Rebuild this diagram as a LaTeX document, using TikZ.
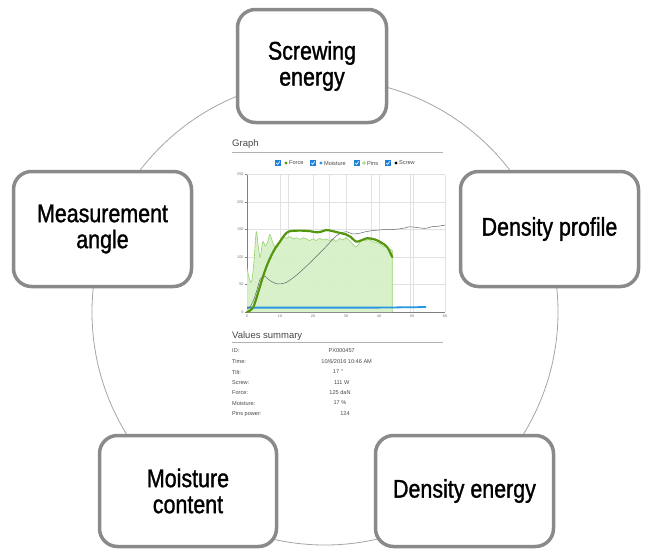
\documentclass[tikz,border=0pt]{standalone}
\usepackage{fontspec}
\setmainfont{Liberation Sans}
\newfontfamily\boxfont[FakeStretch=0.84,FakeBold=1.2]{Liberation Sans}
\definecolor{boxgray}{RGB}{138,138,138}
\definecolor{ringgray}{RGB}{165,165,165}
\definecolor{forcegreen}{RGB}{84,150,14}
\definecolor{pinsgreen}{RGB}{150,210,110}
\definecolor{pinsfill}{RGB}{214,240,200}
\definecolor{moistblue}{RGB}{40,150,225}
\definecolor{checkblue}{RGB}{30,130,220}
\definecolor{gridgray}{RGB}{225,225,225}
\definecolor{txtgray}{RGB}{70,70,70}
\tikzset{
  topic/.style={draw=boxgray, line width=3.5pt, rounded corners=18pt, fill=white,
    align=center, font=\boxfont\fontsize{25.5}{26}\selectfont, inner sep=0pt},
  ring/.style={draw=ringgray, line width=0.8pt},
  grid line/.style={draw=gridgray, line width=0.5pt},
  ticklab/.style={font=\fontsize{3.8}{4}\selectfont, text=gray!90!black, inner sep=0pt},
  legtext/.style={font=\fontsize{5.6}{6}\selectfont, text=txtgray, anchor=west, inner sep=0pt},
  vlabel/.style={font=\fontsize{5.6}{6}\selectfont, text=txtgray, anchor=west, inner sep=0pt},
  vvalue/.style={font=\fontsize{5.6}{6}\selectfont, text=txtgray, inner sep=0pt},
  checkbox/.style={fill=checkblue, draw=none},
  headtext/.style={font=\fontsize{9.5}{10}\selectfont, text=txtgray, anchor=base west, inner sep=0pt},
}
\begin{document}
\begin{tikzpicture}[x=1pt,y=-1pt]
\useasboundingbox (0,0) rectangle (649,552);
% ring
\coordinate (cc) at (325,312);
\draw[ring] (cc) circle[radius=233];
% topic boxes
\node[topic, minimum width=149pt, minimum height=113pt] (se) at (312,66) {Screwing\\energy};
\node[topic, minimum width=178pt, minimum height=115pt] (ma) at (102.5,229) {Measurement\\angle};
\node[topic, minimum width=178pt, minimum height=115pt] (dp) at (549.5,229) {Density profile};
\node[topic, minimum width=177pt, minimum height=111pt] (mc) at (188,491) {Moisture\\content};
\node[topic, minimum width=178pt, minimum height=111pt] (de) at (464.5,491) {Density energy};
% screenshot: headers
\node[headtext] (gtitle) at (232,146.5) {Graph};
\draw[gray!60, line width=1pt] (232,152) -- (443,152);
\node[headtext] (vtitle) at (232,338) {Values summary};
\draw[gray!60, line width=0.8pt] (232,342) -- (443,342);
% legend
\foreach \cx in {278,313,357,388}{
  \fill[checkbox] (\cx-2.8,160.2) rectangle (\cx+2.8,165.8);
  \draw[white, line width=0.6pt] (\cx-1.6,163) -- (\cx-0.4,164.3) -- (\cx+1.8,161.4);
}
\fill[forcegreen] (286,163) circle[radius=1.6];
\fill[moistblue] (321,163) circle[radius=1.6];
\draw[pinsgreen, line width=0.6pt] (364,163) circle[radius=1.4];
\fill[black] (396,163) circle[radius=1.6];
\node[legtext] (lf) at (289,163) {Force};
\node[legtext] (lm) at (324,163) {Moisture};
\node[legtext] (lp) at (367,163) {Pins};
\node[legtext] (ls) at (399,163) {Screw};
% chart
\begin{scope}[xshift=247pt, yshift=-312pt, x=3.3pt, y=0.55pt]
  \foreach \gx in {10,12.5,20,25,30,37.7,40,49.5,50.5,60}{
    \draw[grid line] (\gx,0) -- (\gx,250);
  }
  \foreach \gy in {50,100,150,200,250}{
    \draw[grid line] (0,\gy) -- (60,\gy);
  }
  \draw[gray, line width=0.5pt] (0,0) -- (0,250);
  \draw[gray, line width=0.5pt] (0,0) -- (60,0);
  \foreach \gy in {0,50,100,150,200,250}{
    \draw[gray, line width=0.4pt] (-0.6,\gy) -- (0,\gy);
    \node[ticklab, anchor=east] at (-1,\gy) {\gy};
  }
  \foreach \gx in {0,10,20,30,40,50,60}{
    \node[ticklab, anchor=north] at (\gx,-5) {\gx};
  }
  % pins
  \fill[pinsfill, opacity=0.95] plot[smooth, tension=0.5] coordinates {
    (0,80) (0.8,58) (1.4,56) (2.1,90) (2.8,146) (3.4,120) (4,100) (4.8,128) (5.5,120)
    (6.2,126) (6.9,141) (7.6,130) (8.3,119) (9.2,118) (10,130) (11,136) (12,134) (13,137)
    (14,133) (15,135) (16,132) (17,135) (18,133) (19,130) (20,133) (21,130) (22,134)
    (23,131) (24,133) (25,130) (26,133) (27,128) (28,134) (29,131) (30,135) (31,130)
    (32,124) (33,118) (34,125) (35,132) (36,130) (37,132) (38,128) (40,125) (41,120)
    (42,118) (43,115) (44,112)} -- (44,0) -- (0,0) -- cycle;
  \draw[pinsgreen, line width=0.6pt] plot[smooth, tension=0.5] coordinates {
    (0,80) (0.8,58) (1.4,56) (2.1,90) (2.8,146) (3.4,120) (4,100) (4.8,128) (5.5,120)
    (6.2,126) (6.9,141) (7.6,130) (8.3,119) (9.2,118) (10,130) (11,136) (12,134) (13,137)
    (14,133) (15,135) (16,132) (17,135) (18,133) (19,130) (20,133) (21,130) (22,134)
    (23,131) (24,133) (25,130) (26,133) (27,128) (28,134) (29,131) (30,135) (31,130)
    (32,124) (33,118) (34,125) (35,132) (36,130) (37,132) (38,128) (40,125) (41,120)
    (42,118) (43,115) (44,112)} -- (44,0);
  % moisture
  \draw[moistblue, line width=1.8pt] (0,8) -- (40,8) -- (54.3,9);
  % screw
  \draw[gray!80!black, line width=0.5pt] plot[smooth, tension=0.4] coordinates {
    (0,6) (1,10) (2,22) (3,40) (4,60) (5.3,65) (6,62) (7,57) (8.6,52) (10,51) (12,54)
    (15,67) (19,89) (23,113) (27,138) (29,145) (30.2,146) (32,142) (34,143) (36,146)
    (38,148) (40,149) (42,150) (44,150) (46,151) (48,153) (49,155) (51,154) (54,152)
    (56,155) (58,156) (60,158)};
  % force
  \draw[forcegreen, line width=2.2pt, line cap=round, line join=round] plot[smooth, tension=0.5] coordinates {
    (0,0) (1,3) (2,10) (3,28) (4,48) (5,67) (6,84) (7,98) (8,110) (9,120) (10,128)
    (11,137) (12,144) (13,147) (16,148) (19,147) (21,145) (22.5,146) (24,149) (26,147)
    (28,144) (30,141) (31.5,136) (33,128) (34.5,130) (36.3,134) (38,133) (39.5,130)
    (41,125) (42.5,118) (44,100)};
\end{scope}
% values summary
\node[vlabel] (l1) at (232,351) {ID:};
\node[vlabel] (l2) at (232,361.7) {Time:};
\node[vlabel] (l3) at (232,372) {Tilt:};
\node[vlabel] (l4) at (232,382.7) {Screw:};
\node[vlabel] (l5) at (232,392.7) {Force:};
\node[vlabel] (l6) at (232,403) {Moisture:};
\node[vlabel] (l7) at (232,414) {Pins power:};
\node[vvalue] (v1) at (341.7,351) {PX000457};
\node[vvalue] (v2) at (346.7,361.7) {10/6/2016 10:46 AM};
\node[vvalue] (v3) at (338,372) {17 °};
\node[vvalue] (v4) at (341.7,382.7) {111 W};
\node[vvalue] (v5) at (340,392.7) {125 daN};
\node[vvalue] (v6) at (340,403) {17 \%};
\node[vvalue] (v7) at (345,414) {124};
\end{tikzpicture}
\end{document}
